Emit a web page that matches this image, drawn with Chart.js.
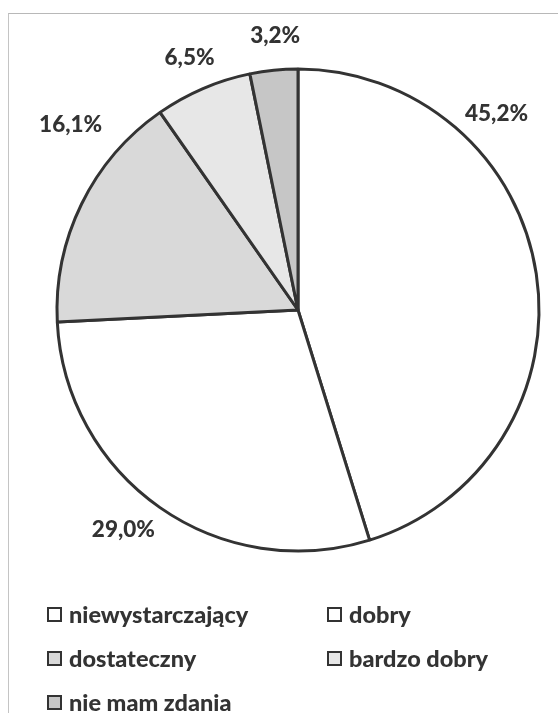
<!DOCTYPE html>
<html>
<head>
<meta charset="utf-8">
<script src="https://cdn.jsdelivr.net/npm/chart.js@4.4.0/dist/chart.umd.min.js"></script>
<style>
  html, body { margin: 0; padding: 0; background: #fff; }
  body { width: 558px; height: 713px; position: relative; overflow: hidden; }
  #frame {
    position: absolute; left: 8px; top: 13px; width: 560px; height: 720px;
    border-left: 1px solid #c4c4c4; border-top: 1px solid #b8b8b8;
  }
  #wrap { position: absolute; left: 0; top: 0; width: 558px; height: 620px; }
  #legend {
    position: absolute; left: 47px; top: 600px; width: 490px;
    display: grid; grid-template-columns: 280px 210px; row-gap: 16px;
    font-family: Lato, "Open Sans", sans-serif; font-weight: 900; font-size: 23.5px;
    color: #333; line-height: 28px;
  }
  #legend .item { display: flex; align-items: center; white-space: nowrap; }
  #legend .box {
    width: 11px; height: 11px; border: 2.5px solid #333; margin-right: 7px;
    flex: none;
  }
</style>
</head>
<body>
<div id="frame"></div>
<div id="wrap"><canvas id="pie"></canvas></div>
<div id="legend"></div>
<script>
// values (percent of answers)
const categories = ['niewystarczający', 'dobry', 'dostateczny', 'bardzo dobry', 'nie mam zdania'];
const shares = [45.2, 29.0, 16.1, 6.5, 3.2];
const sliceColors = ['#ffffff', '#ffffff', '#d9d9d9', '#e7e7e7', '#c6c6c6'];

const fmtPct = v => v.toFixed(1).replace('.', ',') + '%';

// labels outside the pie, with small angle nudges like the Excel original
const outsideLabels = {
  id: 'outsideLabels',
  afterDatasetsDraw(chart, args, opts) {
    const { ctx } = chart;
    const meta = chart.getDatasetMeta(0);
    ctx.save();
    ctx.font = opts.font;
    ctx.fillStyle = opts.color;
    ctx.textAlign = 'center';
    ctx.textBaseline = 'middle';
    meta.data.forEach((arc, i) => {
      const p = arc.getProps(['x', 'y', 'startAngle', 'endAngle', 'outerRadius'], true);
      const nudge = (opts.nudge[i] || 0) * Math.PI / 180;
      const ang = (p.startAngle + p.endAngle) / 2 + nudge;
      const r = p.outerRadius + (opts.gap[i] || opts.defaultGap);
      ctx.fillText(fmtPct(shares[i]), p.x + Math.cos(ang) * r, p.y + Math.sin(ang) * r);
    });
    ctx.restore();
  }
};

const chart = new Chart(document.getElementById('pie'), {
  type: 'pie',
  data: {
    labels: categories,
    datasets: [{
      data: shares,
      backgroundColor: sliceColors,
      borderColor: '#333333',
      borderWidth: 3
    }]
  },
  options: {
    responsive: true,
    maintainAspectRatio: false,
    animation: false,
    radius: 241,
    layout: { padding: { left: 38 } },
    plugins: {
      legend: { display: false },
      tooltip: { enabled: false },
      outsideLabels: {
        font: '900 22.5px Lato, "Open Sans", sans-serif',
        color: '#333',
        defaultGap: 34,
        gap: { 0: 38, 1: 40, 2: 52 },
        nudge: { 0: -36, 1: 3.5, 2: 13, 3: 0, 4: 1 }
      }
    }
  },
  plugins: [outsideLabels]
});

// two-column legend built from the same categories / colours
const legendEl = document.getElementById('legend');
categories.forEach((name, i) => {
  const item = document.createElement('div');
  item.className = 'item';
  const box = document.createElement('span');
  box.className = 'box';
  box.style.background = sliceColors[i];
  item.appendChild(box);
  item.appendChild(document.createTextNode(name));
  legendEl.appendChild(item);
});
</script>
</body>
</html>
